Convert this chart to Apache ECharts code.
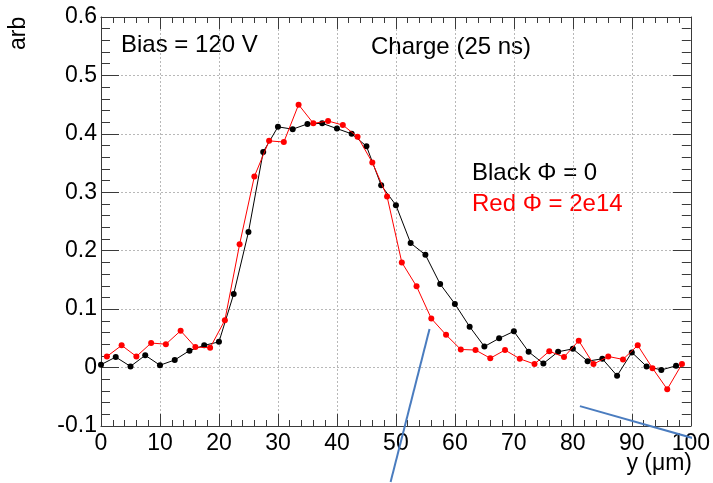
<!DOCTYPE html>
<html>
<head>
<meta charset="utf-8">
<script src="https://cdn.jsdelivr.net/npm/echarts@6/dist/echarts.min.js"></script>
<style>
  html, body { margin: 0; padding: 0; background: #fff; }
  #chart { width: 713px; height: 483px; }
</style>
</head>
<body>
<div id="chart"></div>
<script>
// Charge collection profile across the strip, unirradiated vs irradiated
const blackX = [0, 2.5, 5, 7.5, 10, 12.5, 15, 17.5, 20, 22.5, 25, 27.5, 30, 32.5, 35, 37.5, 40, 42.5, 45, 47.5,
                50, 52.5, 55, 57.5, 60, 62.5, 65, 67.5, 70, 72.5, 75, 77.5, 80, 82.5, 85, 87.5, 90, 92.5, 95, 97.5];
const blackY = [0.005, 0.018, 0.002, 0.021, 0.004, 0.013, 0.029, 0.038, 0.044, 0.126, 0.232, 0.369, 0.412, 0.408,
                0.417, 0.418, 0.409, 0.400, 0.379, 0.312, 0.278, 0.213, 0.193, 0.143, 0.109, 0.070, 0.036, 0.050,
                0.062, 0.027, 0.007, 0.027, 0.032, 0.011, 0.015, -0.014, 0.026, 0.002, -0.004, 0.003];
const redX = [1, 3.5, 6, 8.5, 11, 13.5, 16, 18.5, 21, 23.5, 26, 28.5, 31, 33.5, 36, 38.5, 41, 43.5, 46, 48.5,
              51, 53.5, 56, 58.5, 61, 63.5, 66, 68.5, 71, 73.5, 76, 78.5, 81, 83.5, 86, 88.5, 91, 93.5, 96, 98.5];
const redY = [0.019, 0.038, 0.019, 0.042, 0.040, 0.063, 0.035, 0.034, 0.081, 0.211, 0.327, 0.388, 0.386, 0.450,
              0.418, 0.422, 0.415, 0.395, 0.351, 0.293, 0.180, 0.139, 0.084, 0.056, 0.031, 0.030, 0.016, 0.030,
              0.015, 0.006, 0.028, 0.018, 0.046, 0.006, 0.019, 0.014, 0.038, -0.001, -0.037, 0.006];
// two pen strokes drawn over the plot, in axis units
const strokeA = [[55.7, 0.066], [49.1, -0.196]];
const strokeB = [[81.2, -0.066], [103.6, -0.130]];

const xTicks = [0, 10, 20, 30, 40, 50, 60, 70, 80, 90, 100];
const yTicks = [-0.1, 0, 0.1, 0.2, 0.3, 0.4, 0.5, 0.6];

const FONT = 'Liberation Sans';
const AX = '#3a3a3a';

const zip = (xs, ys) => xs.map((x, i) => [x, ys[i]]);
const fmtY = v => Math.abs(v) < 1e-9 ? '0' : (Math.round(v * 10) / 10).toFixed(1);

const chart = echarts.init(document.getElementById('chart'), null, { renderer: 'canvas' });

const axisCommon = {
  type: 'value',
  axisLine: { show: true, onZero: false, lineStyle: { color: AX, width: 1 } },
  axisTick: { show: true, inside: true, length: 12, lineStyle: { color: AX } },
  minorTick: { show: true, splitNumber: 5, length: 6, lineStyle: { color: AX } }
};

const txt = (text, left, top, size, color) => ({
  type: 'text', left: left, top: top,
  style: { text: text, fill: color || '#000', font: size + 'px "Liberation Sans"' }
});

chart.setOption({
  animation: false,
  backgroundColor: '#ffffff',
  grid: { left: 101, right: 21.5, top: 17, bottom: 57, containLabel: false },
  xAxis: [
    Object.assign({}, axisCommon, {
      position: 'bottom',
      min: xTicks[0], max: xTicks[xTicks.length - 1], interval: 10,
      axisLabel: { color: '#000', fontFamily: FONT, fontSize: 23, margin: 6 },
      splitLine: { show: true, lineStyle: { color: '#b8b8b8', type: [2, 2], width: 1 } }
    }),
    Object.assign({}, axisCommon, {
      position: 'top',
      min: xTicks[0], max: xTicks[xTicks.length - 1], interval: 10,
      axisLabel: { show: false },
      splitLine: { show: false }
    })
  ],
  yAxis: [
    Object.assign({}, axisCommon, {
      position: 'left',
      min: yTicks[0], max: yTicks[yTicks.length - 1], interval: 0.1,
      axisTick: { show: true, inside: true, length: 18, lineStyle: { color: AX } },
      minorTick: { show: true, splitNumber: 5, length: 9, lineStyle: { color: AX } },
      axisLabel: { color: '#000', fontFamily: FONT, fontSize: 23, margin: 4, formatter: fmtY },
      splitLine: { show: true, lineStyle: { color: '#b8b8b8', type: [2, 2], width: 1 } }
    }),
    Object.assign({}, axisCommon, {
      position: 'right',
      min: yTicks[0], max: yTicks[yTicks.length - 1], interval: 0.1,
      axisTick: { show: true, inside: true, length: 18, lineStyle: { color: AX } },
      minorTick: { show: true, splitNumber: 5, length: 9, lineStyle: { color: AX } },
      axisLabel: { show: false },
      splitLine: { show: false }
    })
  ],
  series: [
    {
      name: 'Black', type: 'line', data: zip(blackX, blackY),
      symbol: 'circle', symbolSize: 6,
      lineStyle: { color: '#000', width: 1 },
      itemStyle: { color: '#000' }, z: 3
    },
    {
      name: 'Red', type: 'line', data: zip(redX, redY),
      symbol: 'circle', symbolSize: 6,
      lineStyle: { color: '#ff0000', width: 1 },
      itemStyle: { color: '#ff0000' }, z: 4
    },
    {
      type: 'line', data: strokeA, clip: false, symbol: 'none', silent: true,
      lineStyle: { color: '#4a7cbf', width: 2 }, z: 6
    },
    {
      type: 'line', data: strokeB, clip: false, symbol: 'none', silent: true,
      lineStyle: { color: '#4a7cbf', width: 2 }, z: 6
    }
  ],
  graphic: [
    txt('Bias = 120 V', 121, 33, 24),
    txt('Charge (25 ns)', 371, 35, 24),
    txt('Black \u03A6 = 0', 472, 161, 24),
    txt('Red \u03A6 = 2e14', 472, 192, 24, '#ff0000'),
    { type: 'text', x: 7, y: 50, rotation: Math.PI / 2,
      style: { text: 'arb', fill: '#000', font: '23px "Liberation Sans"', align: 'left', verticalAlign: 'top' } },
    { type: 'text', right: 21, top: 452, style: { text: 'y (\u03BCm)', fill: '#000', font: '23px "Liberation Sans"' } }
  ]
});
</script>
</body>
</html>
